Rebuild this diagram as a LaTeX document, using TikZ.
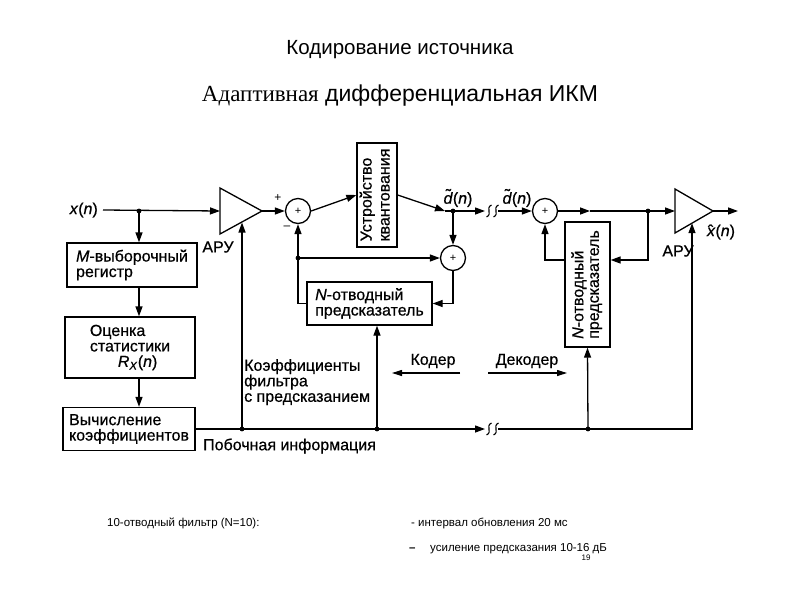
\documentclass[tikz,border=0pt]{standalone}
\usepackage{fontspec}
\usepackage{graphicx}
\setmainfont{Liberation Sans}
\newfontfamily\serifru{Liberation Serif}
\newfontfamily\boldish[FakeBold=0.6]{Liberation Sans}
\usetikzlibrary{arrows.meta}
\newcommand\dtil{\makebox[0pt][l]{\hspace{0.14em}\raisebox{0.2em}{\char"02DC}}\textit{d}}
\newcommand\xhat{\makebox[0pt][l]{\hspace{0.06em}\char"02C6}\textit{x}}
\begin{document}
\begin{tikzpicture}[x=1pt,y=-1pt,
  ln/.style={line width=1.3pt},
  arr/.style={line width=1.3pt,-{Triangle[length=10pt,width=7pt]}},
  blk/.style={draw,line width=1.3pt,inner sep=2pt},
  lbl/.style={font=\boldish\fontsize{16}{15.5}\selectfont},
  adder/.style={draw,circle,line width=1.3pt,minimum size=25pt,inner sep=0pt,font=\fontsize{11}{11}\selectfont},
  small/.style={font=\fontsize{11.5}{11.5}\selectfont},
  brkwave/.pic={\draw[line width=1.1pt] (-2.5,6) .. controls (4,3) and (-4,-3) .. (2.5,-6);}
]
\fill[white] (0,0) rectangle (800,600);
\useasboundingbox (0,0) rectangle (800,600);

% titles
\node[anchor=base,font=\fontsize{20.5}{20.5}\selectfont] (title) at (400,54) {Кодирование источника};
\node[anchor=base,font=\fontsize{23}{23}\selectfont] (sub) at (400,101) {{\serifru Адаптивная} дифференциальная ИКМ};

% encoder
\node[lbl,anchor=east,inner sep=0pt] (xn) at (98,210) {\textit{x}(\textit{n})};
\coordinate (j1) at (139,211);
\coordinate (a1in) at (220,211);
\coordinate (a1out) at (262,211);
\coordinate (a1ctl) at (242,222.5);
\draw[ln,line join=miter] (220,188) -- (262,211) -- (220,234) -- cycle;
\node[lbl] (aru1) at (218,247) {АРУ};
\node[adder] (s1) at (298,211) {+};
\node[font=\fontsize{12}{12}\selectfont] (plus1) at (278,198) {+};
\node[font=\fontsize{12}{12}\selectfont] (minus1) at (287,228) {–};
\node[blk,minimum width=40pt,minimum height=104pt,font=\boldish\fontsize{16}{18}\selectfont] (q) at (377,195)
  {\rotatebox{90}{\begin{tabular}{@{}l@{}}Устройство\\квантования\end{tabular}}};
\coordinate (qa) at (445,211);
\coordinate (dj) at (453,211);
\node[lbl] (dlab1) at (458,198) {\dtil(\textit{n})};
\node[adder] (s2) at (453,258) {+};
\node[blk,lbl,align=left,minimum width=125pt,minimum height=43pt] (p1) at (369.5,303.5)
  {\textit{N}-отводный\\предсказатель};
\coordinate (fb) at (298,258);
\coordinate (brk1) at (485,211);
\coordinate (brk2) at (498,211);

% left column
\node[blk,lbl,align=left,minimum width=130pt,minimum height=44pt] (mreg) at (132,265)
  {\textit{M}-выборочный\\регистр};
\node[blk,lbl,align=left,minimum width=130pt,minimum height=61pt] (est) at (130,347.5)
  {Оценка\\статистики\\\hspace*{28pt}\textit{R}\textsubscript{\textit{X}}(\textit{n})};
\node[blk,lbl,align=left,minimum width=132pt,minimum height=43pt] (calc) at (129,429)
  {Вычисление\\коэффициентов};
\coordinate (sd1) at (242,429);
\coordinate (sd2) at (377,429);
\coordinate (brk3) at (485,429);
\coordinate (brk4) at (498,429);
\coordinate (sd3) at (588,429);

% decoder
\node[lbl] (dlab2) at (517,198) {\dtil(\textit{n})};
\node[adder] (s3) at (545,211) {+};
\coordinate (da) at (590,211);
\coordinate (dj2) at (648,211);
\coordinate (fb3) at (648,260);
\coordinate (a2in) at (675,211);
\coordinate (a2out) at (713,211);
\coordinate (a2ctl) at (692,223.2);
\coordinate (out) at (738,211);
\draw[ln,line join=miter] (675,189) -- (713,211) -- (675,233) -- cycle;
\node[lbl] (aru2) at (678,251) {АРУ};
\node[lbl] (xlab) at (721,232) {\xhat(\textit{n})};
\node[blk,minimum width=45pt,minimum height=125pt,font=\boldish\fontsize{16}{15.5}\selectfont] (p2) at (587.5,284.5)
  {\rotatebox{90}{\begin{tabular}{@{}l@{}}\textit{N}-отводный\\предсказатель\end{tabular}}};

% labels
\node[lbl,anchor=north west,align=left,inner sep=0pt] (coef) at (244,359)
  {Коэффициенты\\фильтра\\с предсказанием};
\node[lbl,anchor=west,inner sep=0pt] (side) at (203,446) {Побочная информация};
\node[lbl] (coder) at (433,361) {Кодер};
\node[lbl] (decoder) at (527,361) {Декодер};
\coordinate (ca1) at (460,373);
\coordinate (ca2) at (392,373);
\coordinate (da1) at (488,373);
\coordinate (da2) at (567,373);

% connectors: encoder
\draw[arr] ([xshift=5pt]xn.east) -- (a1in);
\draw[arr] (j1) -- (j1 |- mreg.north);
\draw[arr] (j1 |- mreg.south) -- (j1 |- est.north);
\draw[arr] (j1 |- est.south) -- (j1 |- calc.north);
\draw[arr] (a1out) -- (s1.west);
\draw[arr] (s1.east) -- (q.west);
\draw[arr] (q.east) -- (qa);
\draw[ln] (qa) -- (dj);
\draw[arr] (dj) -- (brk1);
\draw[arr] (dj) -- (s2.north);
\draw[arr] (s2.south) |- (p1.east);
\draw[arr] (p1.west) -| (s1.south);
\draw[arr] (fb) -- (s2.west);

% side information
\draw[arr] (calc.east) -- (brk3);
\draw[arr] (sd1) -- (a1ctl);
\draw[arr] (sd2) -- (sd2 |- p1.south);
\draw[arr] (brk4) -| (a2ctl);
\draw[arr] (sd3) -- (p2.south);

% decoder connectors
\draw[arr] (brk2) -- (s3.west);
\draw[arr] (s3.east) -- (da);
\draw[ln] (da) -- (dj2);
\draw[arr] (dj2) -- (a2in);
\draw[arr] (dj2) -- (fb3) -- (p2.east |- fb3);
\draw[arr] (p2.west |- fb3) -| (s3.south);
\draw[arr] (a2out) -- (out);

% coder/decoder arrows
\draw[line width=1.1pt,-{Triangle[length=10pt,width=6pt]}] (ca1) -- (ca2);
\draw[line width=1.1pt,-{Triangle[length=10pt,width=6pt]}] (da1) -- (da2);

% junction dots
\foreach \p in {j1,dj,fb,dj2,sd1,sd2,sd3}
  \fill (\p) circle (2.4pt);

% breaks
\pic at (489,211) {brkwave};
\pic at (496,211) {brkwave};
\pic at (489,429) {brkwave};
\pic at (496,429) {brkwave};

% bottom notes
\node[small,anchor=base west,inner sep=0pt] (n1) at (107,526) {10-отводный фильтр (N=10):};
\node[small,anchor=base west,inner sep=0pt] (n2) at (411,526) {- интервал обновления 20 мс};
\node[small,anchor=base west,inner sep=0pt] (n3d) at (409,551) {\textbf{–}};
\node[small,anchor=base west,inner sep=0pt] (n3) at (430,551) {усиление предсказания 10-16 дБ};
\node[font=\fontsize{8}{8}\selectfont] (pg) at (586,558) {19};
\end{tikzpicture}
\end{document}
